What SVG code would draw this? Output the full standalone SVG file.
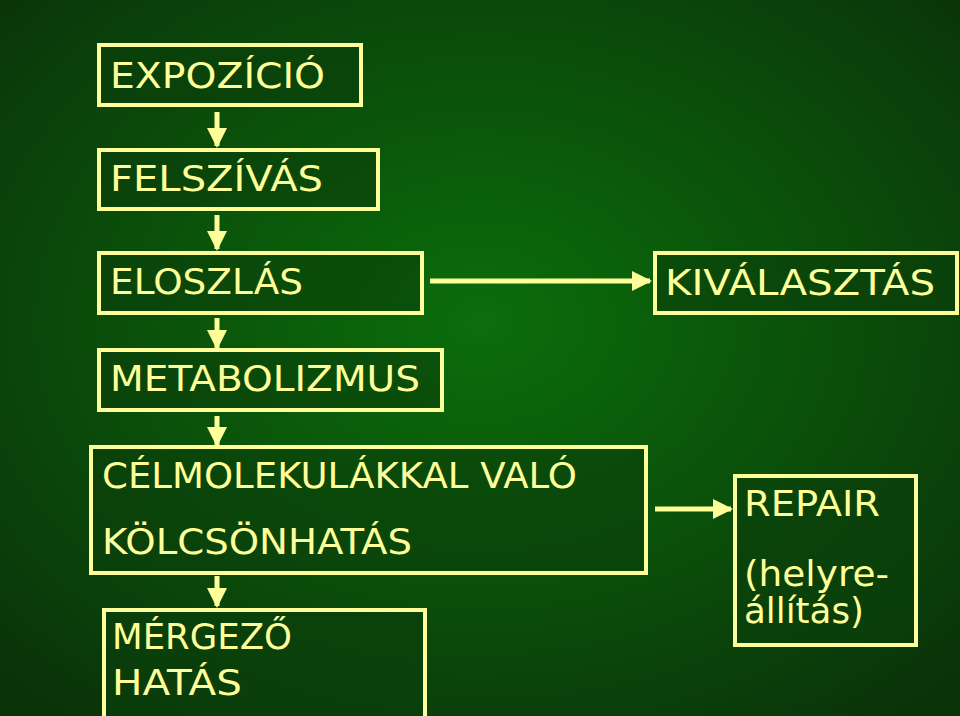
<svg xmlns="http://www.w3.org/2000/svg" width="960" height="716" viewBox="0 0 960 716">
<defs>
<radialGradient id="bg" cx="0.5" cy="0.45" r="0.7">
<stop offset="0" stop-color="#0b6e0b"/>
<stop offset="1" stop-color="#0a330a"/>
</radialGradient>
<marker id="ah" viewBox="0 0 10 10" refX="9" refY="5" markerWidth="4" markerHeight="4" orient="auto" markerUnits="strokeWidth">
<path d="M0,0 L10,5 L0,10 z" fill="#ffff99"/>
</marker>
<style>
.box{fill:#0a3f0a;fill-opacity:0.6;stroke:#ffff99;stroke-width:4}
.t{fill:#ffff99;font-family:"DejaVu Sans","Open Sans",sans-serif;font-size:35px}
.c{stroke:#ffff99;stroke-width:5;fill:none;marker-end:url(#ah)}
</style>
</defs>
<rect width="960" height="716" fill="url(#bg)"/>
<g id="connectors">
<line class="c" x1="217" y1="112" x2="217" y2="146"/>
<line class="c" x1="217" y1="215" x2="217" y2="249"/>
<line class="c" x1="217" y1="318" x2="217" y2="348"/>
<line class="c" x1="217" y1="416" x2="217" y2="445"/>
<line class="c" x1="217" y1="576" x2="217" y2="606"/>
<line class="c" x1="430" y1="281" x2="650" y2="281"/>
<line class="c" x1="655" y1="509" x2="731" y2="509"/>
</g>
<g id="expozicio"><rect class="box" x="99" y="45" width="262" height="60"/><text class="t" x="110" y="88" textLength="215" lengthAdjust="spacingAndGlyphs">EXPOZÍCIÓ</text></g>
<g id="felszivas"><rect class="box" x="99" y="150" width="279" height="59"/><text class="t" x="110" y="191" textLength="213" lengthAdjust="spacingAndGlyphs">FELSZÍVÁS</text></g>
<g id="eloszlas"><rect class="box" x="99" y="253" width="323" height="60"/><text class="t" x="110" y="294" textLength="193" lengthAdjust="spacingAndGlyphs">ELOSZLÁS</text></g>
<g id="kivalasztas"><rect class="box" x="655" y="253" width="302" height="60"/><text class="t" x="665" y="295" textLength="270" lengthAdjust="spacingAndGlyphs">KIVÁLASZTÁS</text></g>
<g id="metabolizmus"><rect class="box" x="99" y="350" width="343" height="60"/><text class="t" x="110" y="391" textLength="310" lengthAdjust="spacingAndGlyphs">METABOLIZMUS</text></g>
<g id="celmolekula"><rect class="box" x="91" y="447" width="555" height="126"/><text class="t" x="102" y="488" textLength="475" lengthAdjust="spacingAndGlyphs">CÉLMOLEKULÁKKAL VALÓ</text><text class="t" x="102" y="554" textLength="310" lengthAdjust="spacingAndGlyphs">KÖLCSÖNHATÁS</text></g>
<g id="mergezo"><rect class="box" x="104" y="610" width="321" height="110"/><text class="t" x="112" y="649" textLength="180" lengthAdjust="spacingAndGlyphs">MÉRGEZŐ</text><text class="t" x="112" y="695" textLength="130" lengthAdjust="spacingAndGlyphs">HATÁS</text></g>
<g id="repair"><rect class="box" x="735" y="476" width="181" height="169"/><text class="t" x="744" y="516" textLength="136" lengthAdjust="spacingAndGlyphs">REPAIR</text><text class="t" x="744" y="586" textLength="145" lengthAdjust="spacingAndGlyphs">(helyre-</text><text class="t" x="744" y="623" textLength="120" lengthAdjust="spacingAndGlyphs">állítás)</text></g>
</svg>
